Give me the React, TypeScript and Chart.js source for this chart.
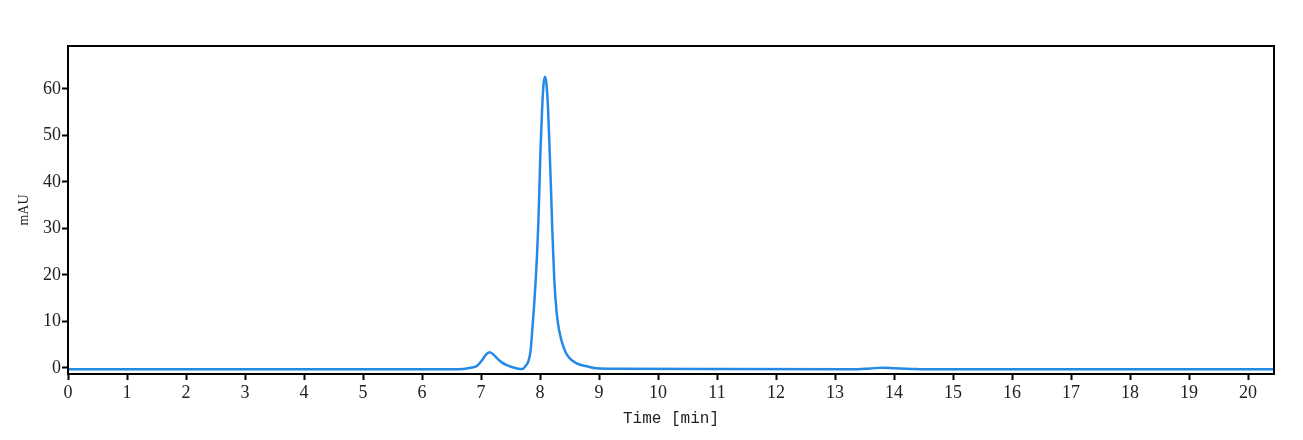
import React, { useEffect, useRef } from "react";
import { Chart, registerables } from "chart.js";

Chart.register(...registerables);

const times = [
  0, 6.5, 6.7, 6.85, 6.93, 7.02, 7.08, 7.14, 7.2, 7.27, 7.35, 7.44, 7.52, 7.61,
  7.7, 7.746, 7.802, 7.842, 7.869, 7.9, 7.927, 7.95, 7.971, 7.988, 8.01, 8.035,
  8.06, 8.085, 8.11, 8.135, 8.158, 8.186, 8.208, 8.242, 8.283, 8.322, 8.395,
  8.48, 8.622, 8.814, 8.95, 9.3, 11, 13.3, 13.6, 13.8, 14.0, 14.3, 14.6, 20.44,
];
const absorbance = [
  -0.3, -0.3, -0.2, 0.1, 0.4, 1.7, 2.8, 3.4, 3.0, 2.1, 1.2, 0.6, 0.2, -0.1,
  -0.25, 0.3, 1.4, 3.9, 8.2, 13.5, 18.9, 24.5, 31, 38, 47.5, 55.5,
  61, 62.6, 61, 56, 48.5, 38.5, 29.7, 18.9, 11.8, 8.2, 4.6,
  2.4, 1.0, 0.3, -0.05, -0.15, -0.25, -0.3, -0.1, 0.05, -0.05, -0.2, -0.3, -0.3,
];
const xTicks = [0, 1, 2, 3, 4, 5, 6, 7, 8, 9, 10, 11, 12, 13, 14, 15, 16, 17, 18, 19, 20];
const yTicks = [0, 10, 20, 30, 40, 50, 60];
const xTitle = "Time [min]";
const yTitle = "mAU";

const frame = {
  id: "frame",
  afterDraw(chart: any) {
    const { ctx, chartArea } = chart;
    ctx.save();
    ctx.strokeStyle = "#000";
    ctx.lineWidth = 2;
    ctx.strokeRect(chartArea.left, chartArea.top, chartArea.right - chartArea.left, chartArea.bottom - chartArea.top);
    ctx.restore();
  },
};

export default function App() {
  const ref = useRef<HTMLCanvasElement>(null);
  useEffect(() => {
    document.body.style.margin = "0";
    const chart = new Chart(ref.current!, {
      type: "line",
      data: {
        datasets: [
          {
            data: times.map((t, i) => ({ x: t, y: absorbance[i] })),
            borderColor: "#2589e6",
            borderWidth: 2.5,
            pointRadius: 0,
            cubicInterpolationMode: "monotone",
            fill: false,
          },
        ],
      },
      options: {
        animation: false,
        responsive: false,
        maintainAspectRatio: false,
        layout: { padding: { left: 0, top: 46, right: 29, bottom: 0 } },
        plugins: { legend: { display: false }, tooltip: { enabled: false } },
        scales: {
          x: {
            type: "linear",
            min: 0,
            max: 20.44,
            afterBuildTicks: (s: any) => { s.ticks = xTicks.map((v) => ({ value: v })); },
            afterFit: (s: any) => { s.height = 66; },
            grid: { drawOnChartArea: false, drawTicks: true, tickLength: 6, tickColor: "#000", tickWidth: 2 },
            border: { display: true, color: "#000", width: 2 },
            ticks: { color: "#222", font: { family: "Liberation Serif", size: 18 }, padding: 2, maxRotation: 0, autoSkip: false },
            title: { display: true, text: xTitle, color: "#222", font: { family: "Liberation Mono", size: 16 }, padding: { top: 0, bottom: 12 } },
          },
          y: {
            type: "linear",
            min: -1.3,
            max: 69.2,
            afterBuildTicks: (s: any) => { s.ticks = yTicks.map((v) => ({ value: v })); },
            afterFit: (s: any) => { s.width = 68; },
            grid: { drawOnChartArea: false, drawTicks: true, tickLength: 6, tickColor: "#000", tickWidth: 2 },
            border: { display: true, color: "#000", width: 2 },
            ticks: { color: "#222", font: { family: "Liberation Serif", size: 18 }, padding: 1 },
            title: { display: true, text: yTitle, color: "#222", font: { family: "Liberation Serif", size: 14 }, padding: { top: 16, bottom: 0 } },
          },
        },
      },
      plugins: [frame],
    } as any);
    return () => chart.destroy();
  }, []);
  return (
    <div style={{ position: "relative", width: 1303, height: 440, background: "#fff" }}>
      <canvas ref={ref} width={1303} height={440} style={{ display: "block" }} />
    </div>
  );
}
